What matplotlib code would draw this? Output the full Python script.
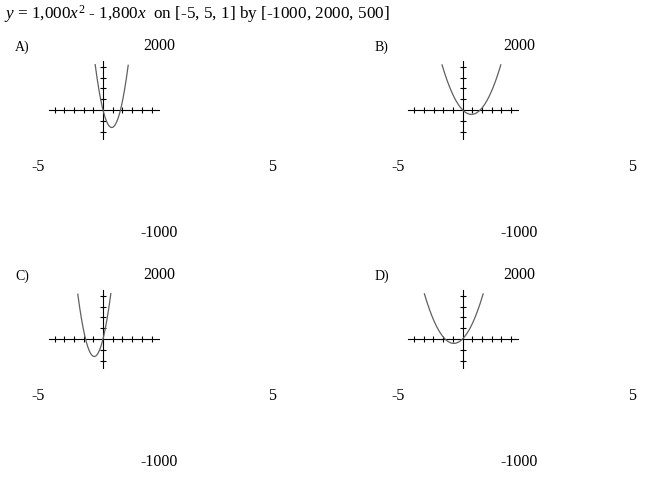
import numpy as np
import matplotlib
matplotlib.use("Agg")
from matplotlib import pyplot as plt

plt.rcParams['font.family'] = 'Liberation Serif'
plt.rcParams['mathtext.fontset'] = 'custom'
plt.rcParams['mathtext.rm'] = 'Liberation Serif'
plt.rcParams['mathtext.it'] = 'Liberation Serif:italic'

# answer choices: y = a*x^2 + b*x
labels = ['A)', 'B)', 'C)', 'D)']
coef_a = [1000, 250, 1000, 250]
coef_b = [-1800, -450, 1800, 450]

x_ticks = [-5, -4, -3, -2, -1, 1, 2, 3, 4, 5]
y_ticks = [-1000, -500, 500, 1000, 1500, 2000]

# pixel origin of each small graph
origins = [(103, 110), (462.7, 110), (103, 339), (462.5, 339)]

W, H = 650, 486
fig = plt.figure(figsize=(6.5, 4.86), dpi=100)

px_x = 9.7       # pixels per x unit
px_y = 0.0216    # pixels per y unit
xmin, xmax = -5.7, 5.9
ymin, ymax = -1400, 2300

fig.text(4 / W, 1 - 14 / H,
         r"$y$ = 1,000$x^2$ - 1,800$x$  on [-5, 5, 1] by [-1000, 2000, 500]",
         fontsize=12.3, va='center', ha='left')

for i in range(4):
    ox, oy = origins[i]
    left = ox + xmin * px_x
    top = oy - ymax * px_y
    w = (xmax - xmin) * px_x
    h = (ymax - ymin) * px_y
    ax = fig.add_axes([left / W, 1 - (top + h) / H, w / W, h / H])
    ax.set_xlim(xmin, xmax)
    ax.set_ylim(ymin, ymax)
    ax.axis('off')

    # axes
    ax.plot([-5.6, 5.75], [0, 0], color='black', lw=0.8)
    ax.plot([0, 0], [-1350, 2270], color='black', lw=0.8)
    ax.plot(x_ticks, [0] * len(x_ticks), ls='none', marker='|', ms=4,
            mew=0.8, color='black')
    ax.plot([0] * len(y_ticks), y_ticks, ls='none', marker='_', ms=4,
            mew=0.8, color='black')

    xs = np.linspace(-5, 5, 1000)
    ys = coef_a[i] * xs ** 2 + coef_b[i] * xs
    ys = np.where(ys > 2100, np.nan, ys)
    ax.plot(xs, ys, color='#606060', lw=0.9)

    # panel text
    dx = 0 if i % 2 == 0 else 360
    dy = 0 if i < 2 else 229
    fig.text((15 + dx) / W, 1 - (47 + dy) / H, labels[i], fontsize=10,
             va='center', ha='left')
    fig.text((159 + dx) / W, 1 - (46 + dy) / H, '2000', fontsize=11.5,
             va='center', ha='center')
    fig.text((38 + dx) / W, 1 - (167 + dy) / H, '-5', fontsize=11.5,
             va='center', ha='center')
    fig.text((272 + dx) / W, 1 - (167 + dy) / H, '5', fontsize=11.5,
             va='center', ha='center')
    fig.text((159 + dx) / W, 1 - (233 + dy) / H, '-1000', fontsize=11.5,
             va='center', ha='center')

fig.savefig('out.png', dpi=100)
